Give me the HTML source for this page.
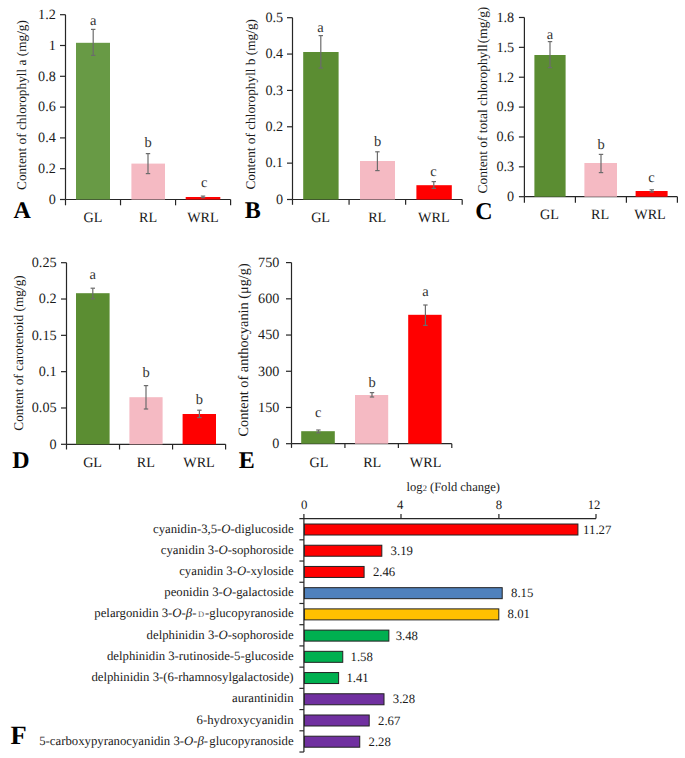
<!DOCTYPE html>
<html><head><meta charset="utf-8"><style>
html,body{margin:0;padding:0;background:#fff;}
svg{display:block;font-family:"Liberation Serif", serif;text-rendering:geometricPrecision;}
</style></head><body>
<svg width="685" height="758" viewBox="0 0 685 758">
<rect x="0" y="0" width="685" height="758" fill="#ffffff"/>
<line x1="65.50" y1="14.70" x2="65.50" y2="199.50" stroke="#262626" stroke-width="1.2"/>
<line x1="60.00" y1="199.50" x2="65.50" y2="199.50" stroke="#262626" stroke-width="1.2"/>
<text x="55.80" y="203.80" font-size="14.2" text-anchor="end" font-weight="normal" fill="#1a1a1a">0</text>
<line x1="60.00" y1="168.70" x2="65.50" y2="168.70" stroke="#262626" stroke-width="1.2"/>
<text x="55.80" y="173.00" font-size="14.2" text-anchor="end" font-weight="normal" fill="#1a1a1a">0.2</text>
<line x1="60.00" y1="137.90" x2="65.50" y2="137.90" stroke="#262626" stroke-width="1.2"/>
<text x="55.80" y="142.20" font-size="14.2" text-anchor="end" font-weight="normal" fill="#1a1a1a">0.4</text>
<line x1="60.00" y1="107.10" x2="65.50" y2="107.10" stroke="#262626" stroke-width="1.2"/>
<text x="55.80" y="111.40" font-size="14.2" text-anchor="end" font-weight="normal" fill="#1a1a1a">0.6</text>
<line x1="60.00" y1="76.30" x2="65.50" y2="76.30" stroke="#262626" stroke-width="1.2"/>
<text x="55.80" y="80.60" font-size="14.2" text-anchor="end" font-weight="normal" fill="#1a1a1a">0.8</text>
<line x1="60.00" y1="45.50" x2="65.50" y2="45.50" stroke="#262626" stroke-width="1.2"/>
<text x="55.80" y="49.80" font-size="14.2" text-anchor="end" font-weight="normal" fill="#1a1a1a">1</text>
<line x1="60.00" y1="14.70" x2="65.50" y2="14.70" stroke="#262626" stroke-width="1.2"/>
<text x="55.80" y="19.00" font-size="14.2" text-anchor="end" font-weight="normal" fill="#1a1a1a">1.2</text>
<line x1="65.50" y1="199.50" x2="230.60" y2="199.50" stroke="#262626" stroke-width="1.2"/>
<line x1="65.50" y1="199.50" x2="65.50" y2="205.30" stroke="#262626" stroke-width="1.2"/>
<line x1="120.53" y1="199.50" x2="120.53" y2="205.30" stroke="#262626" stroke-width="1.2"/>
<line x1="175.57" y1="199.50" x2="175.57" y2="205.30" stroke="#262626" stroke-width="1.2"/>
<line x1="230.60" y1="199.50" x2="230.60" y2="205.30" stroke="#262626" stroke-width="1.2"/>
<rect x="76.00" y="42.80" width="34.00" height="156.70" fill="#689A45"/>
<line x1="93.20" y1="29.40" x2="93.20" y2="55.40" stroke="#6c6c6c" stroke-width="1.2"/>
<line x1="91.00" y1="29.40" x2="95.40" y2="29.40" stroke="#6c6c6c" stroke-width="1.2"/>
<line x1="91.00" y1="55.40" x2="95.40" y2="55.40" stroke="#6c6c6c" stroke-width="1.2"/>
<text x="93.20" y="24.80" font-size="14.5" text-anchor="middle" font-weight="normal" fill="#333">a</text>
<rect x="131.40" y="163.60" width="33.60" height="35.90" fill="#F5BAC3"/>
<line x1="148.00" y1="153.60" x2="148.00" y2="173.60" stroke="#6c6c6c" stroke-width="1.2"/>
<line x1="145.80" y1="153.60" x2="150.20" y2="153.60" stroke="#6c6c6c" stroke-width="1.2"/>
<line x1="145.80" y1="173.60" x2="150.20" y2="173.60" stroke="#6c6c6c" stroke-width="1.2"/>
<text x="148.00" y="147.00" font-size="14.5" text-anchor="middle" font-weight="normal" fill="#333">b</text>
<rect x="185.70" y="197.00" width="34.60" height="2.50" fill="#FF0000"/>
<line x1="203.00" y1="196.10" x2="203.00" y2="197.70" stroke="#6c6c6c" stroke-width="1.2"/>
<line x1="200.80" y1="196.10" x2="205.20" y2="196.10" stroke="#6c6c6c" stroke-width="1.2"/>
<line x1="200.80" y1="197.70" x2="205.20" y2="197.70" stroke="#6c6c6c" stroke-width="1.2"/>
<text x="204.20" y="186.90" font-size="14.5" text-anchor="middle" font-weight="normal" fill="#333">c</text>
<text x="92.90" y="221.80" font-size="14.2" text-anchor="middle" font-weight="normal" fill="#1a1a1a">GL</text>
<text x="148.00" y="221.80" font-size="14.2" text-anchor="middle" font-weight="normal" fill="#1a1a1a">RL</text>
<text x="202.90" y="221.80" font-size="14.2" text-anchor="middle" font-weight="normal" fill="#1a1a1a">WRL</text>
<text x="13.60" y="218.40" font-size="24" text-anchor="start" font-weight="bold" fill="#000">A</text>
<text x="0" y="0" font-size="13.3" text-anchor="middle" fill="#1a1a1a" transform="translate(25.80,105.00) rotate(-90)">Content of chlorophyll a (mg/g)</text>
<line x1="292.50" y1="17.70" x2="292.50" y2="199.50" stroke="#262626" stroke-width="1.2"/>
<line x1="287.00" y1="199.50" x2="292.50" y2="199.50" stroke="#262626" stroke-width="1.2"/>
<text x="283.20" y="203.80" font-size="14.2" text-anchor="end" font-weight="normal" fill="#1a1a1a">0</text>
<line x1="287.00" y1="163.14" x2="292.50" y2="163.14" stroke="#262626" stroke-width="1.2"/>
<text x="283.20" y="167.44" font-size="14.2" text-anchor="end" font-weight="normal" fill="#1a1a1a">0.1</text>
<line x1="287.00" y1="126.78" x2="292.50" y2="126.78" stroke="#262626" stroke-width="1.2"/>
<text x="283.20" y="131.08" font-size="14.2" text-anchor="end" font-weight="normal" fill="#1a1a1a">0.2</text>
<line x1="287.00" y1="90.42" x2="292.50" y2="90.42" stroke="#262626" stroke-width="1.2"/>
<text x="283.20" y="94.72" font-size="14.2" text-anchor="end" font-weight="normal" fill="#1a1a1a">0.3</text>
<line x1="287.00" y1="54.06" x2="292.50" y2="54.06" stroke="#262626" stroke-width="1.2"/>
<text x="283.20" y="58.36" font-size="14.2" text-anchor="end" font-weight="normal" fill="#1a1a1a">0.4</text>
<line x1="287.00" y1="17.70" x2="292.50" y2="17.70" stroke="#262626" stroke-width="1.2"/>
<text x="283.20" y="22.00" font-size="14.2" text-anchor="end" font-weight="normal" fill="#1a1a1a">0.5</text>
<line x1="292.50" y1="199.50" x2="462.20" y2="199.50" stroke="#262626" stroke-width="1.2"/>
<line x1="292.50" y1="199.50" x2="292.50" y2="204.80" stroke="#262626" stroke-width="1.2"/>
<line x1="349.07" y1="199.50" x2="349.07" y2="204.80" stroke="#262626" stroke-width="1.2"/>
<line x1="405.63" y1="199.50" x2="405.63" y2="204.80" stroke="#262626" stroke-width="1.2"/>
<line x1="462.20" y1="199.50" x2="462.20" y2="204.80" stroke="#262626" stroke-width="1.2"/>
<rect x="303.20" y="52.00" width="35.40" height="147.50" fill="#5B8D32"/>
<line x1="320.80" y1="35.60" x2="320.80" y2="68.00" stroke="#6c6c6c" stroke-width="1.2"/>
<line x1="318.60" y1="35.60" x2="323.00" y2="35.60" stroke="#6c6c6c" stroke-width="1.2"/>
<line x1="318.60" y1="68.00" x2="323.00" y2="68.00" stroke="#6c6c6c" stroke-width="1.2"/>
<text x="320.50" y="32.00" font-size="14.5" text-anchor="middle" font-weight="normal" fill="#333">a</text>
<rect x="360.00" y="161.00" width="35.00" height="38.50" fill="#F5BAC3"/>
<line x1="377.40" y1="151.80" x2="377.40" y2="170.60" stroke="#6c6c6c" stroke-width="1.2"/>
<line x1="375.20" y1="151.80" x2="379.60" y2="151.80" stroke="#6c6c6c" stroke-width="1.2"/>
<line x1="375.20" y1="170.60" x2="379.60" y2="170.60" stroke="#6c6c6c" stroke-width="1.2"/>
<text x="377.50" y="146.00" font-size="14.5" text-anchor="middle" font-weight="normal" fill="#333">b</text>
<rect x="416.40" y="185.20" width="35.40" height="14.30" fill="#FF0000"/>
<line x1="433.80" y1="181.60" x2="433.80" y2="188.40" stroke="#6c6c6c" stroke-width="1.2"/>
<line x1="431.60" y1="181.60" x2="436.00" y2="181.60" stroke="#6c6c6c" stroke-width="1.2"/>
<line x1="431.60" y1="188.40" x2="436.00" y2="188.40" stroke="#6c6c6c" stroke-width="1.2"/>
<text x="433.50" y="176.00" font-size="14.5" text-anchor="middle" font-weight="normal" fill="#333">c</text>
<text x="320.60" y="221.60" font-size="14.2" text-anchor="middle" font-weight="normal" fill="#1a1a1a">GL</text>
<text x="377.20" y="221.60" font-size="14.2" text-anchor="middle" font-weight="normal" fill="#1a1a1a">RL</text>
<text x="433.80" y="221.60" font-size="14.2" text-anchor="middle" font-weight="normal" fill="#1a1a1a">WRL</text>
<text x="244.80" y="218.40" font-size="24" text-anchor="start" font-weight="bold" fill="#000">B</text>
<text x="0" y="0" font-size="13.3" text-anchor="middle" fill="#1a1a1a" transform="translate(255.10,104.30) rotate(-90)">Content of chlorophyll b (mg/g)</text>
<line x1="524.40" y1="17.48" x2="524.40" y2="196.70" stroke="#262626" stroke-width="1.2"/>
<line x1="518.90" y1="196.70" x2="524.40" y2="196.70" stroke="#262626" stroke-width="1.2"/>
<text x="514.20" y="201.00" font-size="14.2" text-anchor="end" font-weight="normal" fill="#1a1a1a">0</text>
<line x1="518.90" y1="166.83" x2="524.40" y2="166.83" stroke="#262626" stroke-width="1.2"/>
<text x="514.20" y="171.13" font-size="14.2" text-anchor="end" font-weight="normal" fill="#1a1a1a">0.3</text>
<line x1="518.90" y1="136.96" x2="524.40" y2="136.96" stroke="#262626" stroke-width="1.2"/>
<text x="514.20" y="141.26" font-size="14.2" text-anchor="end" font-weight="normal" fill="#1a1a1a">0.6</text>
<line x1="518.90" y1="107.09" x2="524.40" y2="107.09" stroke="#262626" stroke-width="1.2"/>
<text x="514.20" y="111.39" font-size="14.2" text-anchor="end" font-weight="normal" fill="#1a1a1a">0.9</text>
<line x1="518.90" y1="77.22" x2="524.40" y2="77.22" stroke="#262626" stroke-width="1.2"/>
<text x="514.20" y="81.52" font-size="14.2" text-anchor="end" font-weight="normal" fill="#1a1a1a">1.2</text>
<line x1="518.90" y1="47.35" x2="524.40" y2="47.35" stroke="#262626" stroke-width="1.2"/>
<text x="514.20" y="51.65" font-size="14.2" text-anchor="end" font-weight="normal" fill="#1a1a1a">1.5</text>
<line x1="518.90" y1="17.48" x2="524.40" y2="17.48" stroke="#262626" stroke-width="1.2"/>
<text x="514.20" y="21.78" font-size="14.2" text-anchor="end" font-weight="normal" fill="#1a1a1a">1.8</text>
<line x1="524.40" y1="196.70" x2="677.40" y2="196.70" stroke="#262626" stroke-width="1.2"/>
<line x1="524.40" y1="196.70" x2="524.40" y2="202.70" stroke="#262626" stroke-width="1.2"/>
<line x1="575.40" y1="196.70" x2="575.40" y2="202.70" stroke="#262626" stroke-width="1.2"/>
<line x1="626.40" y1="196.70" x2="626.40" y2="202.70" stroke="#262626" stroke-width="1.2"/>
<line x1="677.40" y1="196.70" x2="677.40" y2="202.70" stroke="#262626" stroke-width="1.2"/>
<rect x="534.40" y="55.00" width="31.20" height="141.70" fill="#5B8D32"/>
<line x1="550.00" y1="41.60" x2="550.00" y2="67.60" stroke="#6c6c6c" stroke-width="1.2"/>
<line x1="547.80" y1="41.60" x2="552.20" y2="41.60" stroke="#6c6c6c" stroke-width="1.2"/>
<line x1="547.80" y1="67.60" x2="552.20" y2="67.60" stroke="#6c6c6c" stroke-width="1.2"/>
<text x="550.00" y="39.40" font-size="14.5" text-anchor="middle" font-weight="normal" fill="#333">a</text>
<rect x="584.40" y="163.00" width="32.60" height="33.70" fill="#F5BAC3"/>
<line x1="601.00" y1="154.40" x2="601.00" y2="172.60" stroke="#6c6c6c" stroke-width="1.2"/>
<line x1="598.80" y1="154.40" x2="603.20" y2="154.40" stroke="#6c6c6c" stroke-width="1.2"/>
<line x1="598.80" y1="172.60" x2="603.20" y2="172.60" stroke="#6c6c6c" stroke-width="1.2"/>
<text x="601.00" y="148.60" font-size="14.5" text-anchor="middle" font-weight="normal" fill="#333">b</text>
<rect x="635.60" y="191.00" width="32.00" height="5.70" fill="#FF0000"/>
<line x1="651.80" y1="189.80" x2="651.80" y2="192.00" stroke="#6c6c6c" stroke-width="1.2"/>
<line x1="649.60" y1="189.80" x2="654.00" y2="189.80" stroke="#6c6c6c" stroke-width="1.2"/>
<line x1="649.60" y1="192.00" x2="654.00" y2="192.00" stroke="#6c6c6c" stroke-width="1.2"/>
<text x="651.50" y="181.60" font-size="14.5" text-anchor="middle" font-weight="normal" fill="#333">c</text>
<text x="549.50" y="219.00" font-size="14.2" text-anchor="middle" font-weight="normal" fill="#1a1a1a">GL</text>
<text x="600.00" y="219.00" font-size="14.2" text-anchor="middle" font-weight="normal" fill="#1a1a1a">RL</text>
<text x="650.00" y="219.00" font-size="14.2" text-anchor="middle" font-weight="normal" fill="#1a1a1a">WRL</text>
<text x="475.20" y="219.00" font-size="24" text-anchor="start" font-weight="bold" fill="#000">C</text>
<text x="0" y="0" font-size="13.4" text-anchor="middle" fill="#1a1a1a" transform="translate(487.10,100.05) rotate(-90)">Content of total chlorophyll<tspan dx="-2.2"> (mg/g)</tspan></text>
<line x1="66.50" y1="262.70" x2="66.50" y2="444.30" stroke="#262626" stroke-width="1.2"/>
<line x1="61.00" y1="444.30" x2="66.50" y2="444.30" stroke="#262626" stroke-width="1.2"/>
<text x="56.60" y="448.60" font-size="14.2" text-anchor="end" font-weight="normal" fill="#1a1a1a">0</text>
<line x1="61.00" y1="407.98" x2="66.50" y2="407.98" stroke="#262626" stroke-width="1.2"/>
<text x="56.60" y="412.28" font-size="14.2" text-anchor="end" font-weight="normal" fill="#1a1a1a">0.05</text>
<line x1="61.00" y1="371.66" x2="66.50" y2="371.66" stroke="#262626" stroke-width="1.2"/>
<text x="56.60" y="375.96" font-size="14.2" text-anchor="end" font-weight="normal" fill="#1a1a1a">0.1</text>
<line x1="61.00" y1="335.34" x2="66.50" y2="335.34" stroke="#262626" stroke-width="1.2"/>
<text x="56.60" y="339.64" font-size="14.2" text-anchor="end" font-weight="normal" fill="#1a1a1a">0.15</text>
<line x1="61.00" y1="299.02" x2="66.50" y2="299.02" stroke="#262626" stroke-width="1.2"/>
<text x="56.60" y="303.32" font-size="14.2" text-anchor="end" font-weight="normal" fill="#1a1a1a">0.2</text>
<line x1="61.00" y1="262.70" x2="66.50" y2="262.70" stroke="#262626" stroke-width="1.2"/>
<text x="56.60" y="267.00" font-size="14.2" text-anchor="end" font-weight="normal" fill="#1a1a1a">0.25</text>
<line x1="66.50" y1="444.30" x2="225.60" y2="444.30" stroke="#262626" stroke-width="1.2"/>
<line x1="66.50" y1="444.30" x2="66.50" y2="449.50" stroke="#262626" stroke-width="1.2"/>
<line x1="119.53" y1="444.30" x2="119.53" y2="449.50" stroke="#262626" stroke-width="1.2"/>
<line x1="172.57" y1="444.30" x2="172.57" y2="449.50" stroke="#262626" stroke-width="1.2"/>
<line x1="225.60" y1="444.30" x2="225.60" y2="449.50" stroke="#262626" stroke-width="1.2"/>
<rect x="76.00" y="293.20" width="33.60" height="151.10" fill="#5B8D32"/>
<line x1="92.80" y1="288.20" x2="92.80" y2="298.80" stroke="#6c6c6c" stroke-width="1.2"/>
<line x1="90.60" y1="288.20" x2="95.00" y2="288.20" stroke="#6c6c6c" stroke-width="1.2"/>
<line x1="90.60" y1="298.80" x2="95.00" y2="298.80" stroke="#6c6c6c" stroke-width="1.2"/>
<text x="92.80" y="279.40" font-size="14.5" text-anchor="middle" font-weight="normal" fill="#333">a</text>
<rect x="129.40" y="397.20" width="33.20" height="47.10" fill="#F5BAC3"/>
<line x1="146.00" y1="385.60" x2="146.00" y2="409.00" stroke="#6c6c6c" stroke-width="1.2"/>
<line x1="143.80" y1="385.60" x2="148.20" y2="385.60" stroke="#6c6c6c" stroke-width="1.2"/>
<line x1="143.80" y1="409.00" x2="148.20" y2="409.00" stroke="#6c6c6c" stroke-width="1.2"/>
<text x="146.00" y="376.60" font-size="14.5" text-anchor="middle" font-weight="normal" fill="#333">b</text>
<rect x="182.60" y="414.00" width="33.40" height="30.30" fill="#FF0000"/>
<line x1="199.40" y1="410.20" x2="199.40" y2="417.60" stroke="#6c6c6c" stroke-width="1.2"/>
<line x1="197.20" y1="410.20" x2="201.60" y2="410.20" stroke="#6c6c6c" stroke-width="1.2"/>
<line x1="197.20" y1="417.60" x2="201.60" y2="417.60" stroke="#6c6c6c" stroke-width="1.2"/>
<text x="199.40" y="404.40" font-size="14.5" text-anchor="middle" font-weight="normal" fill="#333">b</text>
<text x="92.60" y="467.40" font-size="14.2" text-anchor="middle" font-weight="normal" fill="#1a1a1a">GL</text>
<text x="145.80" y="467.40" font-size="14.2" text-anchor="middle" font-weight="normal" fill="#1a1a1a">RL</text>
<text x="199.00" y="467.40" font-size="14.2" text-anchor="middle" font-weight="normal" fill="#1a1a1a">WRL</text>
<text x="12.20" y="468.40" font-size="24" text-anchor="start" font-weight="bold" fill="#000">D</text>
<text x="0" y="0" font-size="13.3" text-anchor="middle" fill="#1a1a1a" transform="translate(23.10,353.00) rotate(-90)">Content of carotenoid (mg/g)</text>
<line x1="291.50" y1="262.60" x2="291.50" y2="443.70" stroke="#262626" stroke-width="1.2"/>
<line x1="286.00" y1="443.70" x2="291.50" y2="443.70" stroke="#262626" stroke-width="1.2"/>
<text x="279.40" y="448.00" font-size="14.2" text-anchor="end" font-weight="normal" fill="#1a1a1a">0</text>
<line x1="286.00" y1="407.48" x2="291.50" y2="407.48" stroke="#262626" stroke-width="1.2"/>
<text x="279.40" y="411.78" font-size="14.2" text-anchor="end" font-weight="normal" fill="#1a1a1a">150</text>
<line x1="286.00" y1="371.26" x2="291.50" y2="371.26" stroke="#262626" stroke-width="1.2"/>
<text x="279.40" y="375.56" font-size="14.2" text-anchor="end" font-weight="normal" fill="#1a1a1a">300</text>
<line x1="286.00" y1="335.04" x2="291.50" y2="335.04" stroke="#262626" stroke-width="1.2"/>
<text x="279.40" y="339.34" font-size="14.2" text-anchor="end" font-weight="normal" fill="#1a1a1a">450</text>
<line x1="286.00" y1="298.82" x2="291.50" y2="298.82" stroke="#262626" stroke-width="1.2"/>
<text x="279.40" y="303.12" font-size="14.2" text-anchor="end" font-weight="normal" fill="#1a1a1a">600</text>
<line x1="286.00" y1="262.60" x2="291.50" y2="262.60" stroke="#262626" stroke-width="1.2"/>
<text x="279.40" y="266.90" font-size="14.2" text-anchor="end" font-weight="normal" fill="#1a1a1a">750</text>
<line x1="291.50" y1="443.70" x2="451.80" y2="443.70" stroke="#262626" stroke-width="1.2"/>
<line x1="291.50" y1="443.70" x2="291.50" y2="447.90" stroke="#262626" stroke-width="1.2"/>
<line x1="344.93" y1="443.70" x2="344.93" y2="447.90" stroke="#262626" stroke-width="1.2"/>
<line x1="398.37" y1="443.70" x2="398.37" y2="447.90" stroke="#262626" stroke-width="1.2"/>
<line x1="451.80" y1="443.70" x2="451.80" y2="447.90" stroke="#262626" stroke-width="1.2"/>
<rect x="301.20" y="431.20" width="33.60" height="12.50" fill="#5B8D32"/>
<line x1="318.40" y1="430.00" x2="318.40" y2="432.80" stroke="#6c6c6c" stroke-width="1.2"/>
<line x1="316.20" y1="430.00" x2="320.60" y2="430.00" stroke="#6c6c6c" stroke-width="1.2"/>
<line x1="316.20" y1="432.80" x2="320.60" y2="432.80" stroke="#6c6c6c" stroke-width="1.2"/>
<text x="318.20" y="416.60" font-size="14.5" text-anchor="middle" font-weight="normal" fill="#333">c</text>
<rect x="355.00" y="395.00" width="33.20" height="48.70" fill="#F5BAC3"/>
<line x1="372.00" y1="392.60" x2="372.00" y2="397.00" stroke="#6c6c6c" stroke-width="1.2"/>
<line x1="369.80" y1="392.60" x2="374.20" y2="392.60" stroke="#6c6c6c" stroke-width="1.2"/>
<line x1="369.80" y1="397.00" x2="374.20" y2="397.00" stroke="#6c6c6c" stroke-width="1.2"/>
<text x="372.00" y="387.00" font-size="14.5" text-anchor="middle" font-weight="normal" fill="#333">b</text>
<rect x="408.20" y="314.80" width="33.40" height="128.90" fill="#FF0000"/>
<line x1="425.40" y1="305.00" x2="425.40" y2="325.40" stroke="#6c6c6c" stroke-width="1.2"/>
<line x1="423.20" y1="305.00" x2="427.60" y2="305.00" stroke="#6c6c6c" stroke-width="1.2"/>
<line x1="423.20" y1="325.40" x2="427.60" y2="325.40" stroke="#6c6c6c" stroke-width="1.2"/>
<text x="425.40" y="296.00" font-size="14.5" text-anchor="middle" font-weight="normal" fill="#333">a</text>
<text x="319.00" y="467.00" font-size="14.2" text-anchor="middle" font-weight="normal" fill="#1a1a1a">GL</text>
<text x="372.20" y="467.00" font-size="14.2" text-anchor="middle" font-weight="normal" fill="#1a1a1a">RL</text>
<text x="425.60" y="467.00" font-size="14.2" text-anchor="middle" font-weight="normal" fill="#1a1a1a">WRL</text>
<text x="238.80" y="468.40" font-size="24" text-anchor="start" font-weight="bold" fill="#000">E</text>
<text x="0" y="0" font-size="14.3" text-anchor="middle" fill="#1a1a1a" transform="translate(248.10,349.90) rotate(-90)">Content of anthocyanin (μg/g)</text>
<line x1="299.40" y1="518.60" x2="596.00" y2="518.60" stroke="#262626" stroke-width="1.2"/>
<line x1="303.90" y1="514.00" x2="303.90" y2="518.60" stroke="#262626" stroke-width="1.2"/>
<text x="304.20" y="508.80" font-size="12.75" text-anchor="middle" font-weight="normal" fill="#1a1a1a">0</text>
<line x1="401.00" y1="514.00" x2="401.00" y2="518.60" stroke="#262626" stroke-width="1.2"/>
<text x="400.20" y="508.80" font-size="12.75" text-anchor="middle" font-weight="normal" fill="#1a1a1a">4</text>
<line x1="498.90" y1="514.00" x2="498.90" y2="518.60" stroke="#262626" stroke-width="1.2"/>
<text x="498.90" y="508.80" font-size="12.75" text-anchor="middle" font-weight="normal" fill="#1a1a1a">8</text>
<line x1="596.00" y1="514.00" x2="596.00" y2="518.60" stroke="#262626" stroke-width="1.2"/>
<text x="594.00" y="508.80" font-size="12.75" text-anchor="middle" font-weight="normal" fill="#1a1a1a">12</text>
<text x="406.6" y="491" font-size="12.55" fill="#1a1a1a">log<tspan font-size="8.4">2</tspan> (Fold change)</text>
<line x1="303.90" y1="518.60" x2="303.90" y2="752.02" stroke="#262626" stroke-width="1.2"/>
<line x1="299.40" y1="539.82" x2="303.90" y2="539.82" stroke="#262626" stroke-width="1.2"/>
<rect x="304.40" y="524.01" width="273.52" height="11.00" fill="#FF0000" stroke="#222" stroke-width="1"/>
<text x="583.12" y="533.61" font-size="12.75" text-anchor="start" font-weight="normal" fill="#1a1a1a">11.27</text>
<text x="293.60" y="532.61" font-size="12.75" text-anchor="end" font-weight="normal" fill="#1a1a1a">cyanidin-3,5-<tspan font-style="italic">O</tspan>-diglucoside</text>
<line x1="299.40" y1="561.04" x2="303.90" y2="561.04" stroke="#262626" stroke-width="1.2"/>
<rect x="304.40" y="545.23" width="77.42" height="11.00" fill="#FF0000" stroke="#222" stroke-width="1"/>
<text x="390.62" y="554.83" font-size="12.75" text-anchor="start" font-weight="normal" fill="#1a1a1a">3.19</text>
<text x="293.60" y="553.83" font-size="12.75" text-anchor="end" font-weight="normal" fill="#1a1a1a">cyanidin 3-<tspan font-style="italic">O</tspan>-sophoroside</text>
<line x1="299.40" y1="582.26" x2="303.90" y2="582.26" stroke="#262626" stroke-width="1.2"/>
<rect x="304.40" y="566.45" width="59.70" height="11.00" fill="#FF0000" stroke="#222" stroke-width="1"/>
<text x="372.90" y="576.05" font-size="12.75" text-anchor="start" font-weight="normal" fill="#1a1a1a">2.46</text>
<text x="293.60" y="575.05" font-size="12.75" text-anchor="end" font-weight="normal" fill="#1a1a1a">cyanidin 3-<tspan font-style="italic">O</tspan>-xyloside</text>
<line x1="299.40" y1="603.48" x2="303.90" y2="603.48" stroke="#262626" stroke-width="1.2"/>
<rect x="304.40" y="587.67" width="197.80" height="11.00" fill="#4F81BD" stroke="#222" stroke-width="1"/>
<text x="511.00" y="597.27" font-size="12.75" text-anchor="start" font-weight="normal" fill="#1a1a1a">8.15</text>
<text x="293.60" y="596.27" font-size="12.75" text-anchor="end" font-weight="normal" fill="#1a1a1a">peonidin 3-<tspan font-style="italic">O</tspan>-galactoside</text>
<line x1="299.40" y1="624.70" x2="303.90" y2="624.70" stroke="#262626" stroke-width="1.2"/>
<rect x="304.40" y="608.89" width="194.40" height="11.00" fill="#FFC000" stroke="#222" stroke-width="1"/>
<text x="507.60" y="618.49" font-size="12.75" text-anchor="start" font-weight="normal" fill="#1a1a1a">8.01</text>
<text x="293.60" y="617.49" font-size="12.75" text-anchor="end" font-weight="normal" fill="#1a1a1a">pelargonidin 3-<tspan font-style="italic">O</tspan>-<tspan font-style="italic">β</tspan>-<tspan font-size="8.5" dx="1.5" fill="#666">D</tspan><tspan dx="1">-glucopyranoside</tspan></text>
<line x1="299.40" y1="645.92" x2="303.90" y2="645.92" stroke="#262626" stroke-width="1.2"/>
<rect x="304.40" y="630.11" width="84.46" height="11.00" fill="#00B050" stroke="#222" stroke-width="1"/>
<text x="395.66" y="639.71" font-size="12.75" text-anchor="start" font-weight="normal" fill="#1a1a1a">3.48</text>
<text x="293.60" y="638.71" font-size="12.75" text-anchor="end" font-weight="normal" fill="#1a1a1a">delphinidin 3-<tspan font-style="italic">O</tspan>-sophoroside</text>
<line x1="299.40" y1="667.14" x2="303.90" y2="667.14" stroke="#262626" stroke-width="1.2"/>
<rect x="304.40" y="651.33" width="38.35" height="11.00" fill="#00B050" stroke="#222" stroke-width="1"/>
<text x="350.55" y="660.93" font-size="12.75" text-anchor="start" font-weight="normal" fill="#1a1a1a">1.58</text>
<text x="293.60" y="659.93" font-size="12.75" text-anchor="end" font-weight="normal" fill="#1a1a1a">delphinidin 3-rutinoside-5-glucoside</text>
<line x1="299.40" y1="688.36" x2="303.90" y2="688.36" stroke="#262626" stroke-width="1.2"/>
<rect x="304.40" y="672.55" width="34.22" height="11.00" fill="#00B050" stroke="#222" stroke-width="1"/>
<text x="346.42" y="682.15" font-size="12.75" text-anchor="start" font-weight="normal" fill="#1a1a1a">1.41</text>
<text x="293.60" y="681.15" font-size="12.75" text-anchor="end" font-weight="normal" fill="#1a1a1a">delphinidin 3-(6-rhamnosylgalactoside)</text>
<line x1="299.40" y1="709.58" x2="303.90" y2="709.58" stroke="#262626" stroke-width="1.2"/>
<rect x="304.40" y="693.77" width="79.61" height="11.00" fill="#7030A0" stroke="#222" stroke-width="1"/>
<text x="392.81" y="703.37" font-size="12.75" text-anchor="start" font-weight="normal" fill="#1a1a1a">3.28</text>
<text x="293.60" y="702.37" font-size="12.75" text-anchor="end" font-weight="normal" fill="#1a1a1a">aurantinidin</text>
<line x1="299.40" y1="730.80" x2="303.90" y2="730.80" stroke="#262626" stroke-width="1.2"/>
<rect x="304.40" y="714.99" width="64.80" height="11.00" fill="#7030A0" stroke="#222" stroke-width="1"/>
<text x="378.00" y="724.59" font-size="12.75" text-anchor="start" font-weight="normal" fill="#1a1a1a">2.67</text>
<text x="293.60" y="723.59" font-size="12.75" text-anchor="end" font-weight="normal" fill="#1a1a1a">6-hydroxycyanidin</text>
<line x1="299.40" y1="752.02" x2="303.90" y2="752.02" stroke="#262626" stroke-width="1.2"/>
<rect x="304.40" y="736.21" width="55.34" height="11.00" fill="#7030A0" stroke="#222" stroke-width="1"/>
<text x="368.54" y="745.81" font-size="12.75" text-anchor="start" font-weight="normal" fill="#1a1a1a">2.28</text>
<text x="293.60" y="744.81" font-size="12.75" text-anchor="end" font-weight="normal" fill="#1a1a1a">5-carboxypyranocyanidin 3-<tspan font-style="italic">O</tspan>-<tspan font-style="italic">β</tspan>-<tspan dx="1.2">glucopyranoside</tspan></text>
<text x="10.40" y="744.40" font-size="26.5" text-anchor="start" font-weight="bold" fill="#000">F</text>
</svg>
</body></html>
